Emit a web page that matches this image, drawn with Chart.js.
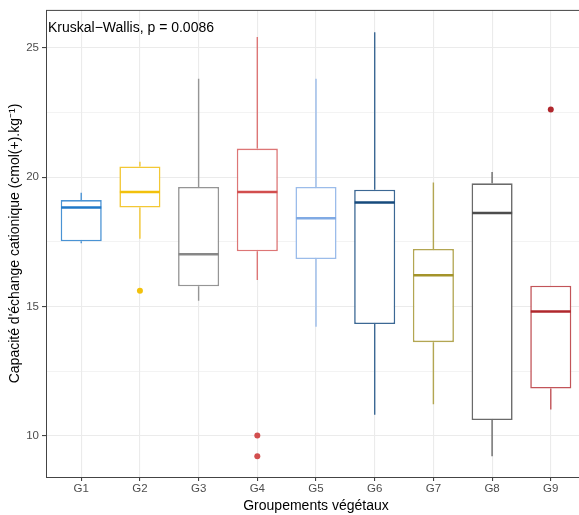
<!DOCTYPE html>
<html lang="fr">
<head>
    <meta charset="UTF-8">
    <title>Capacité d'échange cationique par groupement végétal</title>
    <script src="https://cdn.jsdelivr.net/npm/chart.js"></script>
    <style>
        html, body { margin: 0; padding: 0; overflow: hidden; background: #fff; }
    </style>
</head>
<body>
    <canvas id="chart" width="590" height="515"></canvas>

    <script>
        // Groups and boxplot statistics
        const groups = ['G1', 'G2', 'G3', 'G4', 'G5', 'G6', 'G7', 'G8', 'G9'];
        const q1 = [17.52, 18.82, 15.78, 17.13, 16.83, 14.32, 13.62, 10.61, 11.83];
        const median = [18.82, 19.42, 17.02, 19.42, 18.41, 19.02, 16.21, 18.61, 14.81];
        const q3 = [19.11, 20.41, 19.62, 21.10, 19.62, 19.51, 17.22, 19.76, 15.80];
        const whiskerLow = [17.44, 17.62, 15.22, 16.02, 14.22, 10.82, 11.22, 9.21, 11.02];
        const whiskerHigh = [19.39, 20.59, 23.80, 25.41, 23.80, 25.60, 19.79, 20.20, 15.80];

        // Outliers: group number and value
        const outlierGroup = [2, 4, 4, 9];
        const outlierValue = [15.61, 10.01, 9.21, 22.61];

        const colors = ['#1F78C8', '#F2C10C', '#878787', '#D24E4E', '#80AAE4', '#164A7C', '#A4942A', '#4D4D4D', '#B0272D'];
        const boxColors = ['#4A93D4', '#F3C835', '#959595', '#DD7676', '#9BBCEA', '#3C6894', '#B3A652', '#6A6A6A', '#C25459'];

        const yTicksMajor = [10, 15, 20, 25];
        const annotation = 'Kruskal\u2212Wallis, p = 0.0086';

        const fontFamily = '"Liberation Sans", Arial, sans-serif';

        // whiskers behind the boxes, medians on top
        const boxplotParts = {
            id: 'boxplotParts',
            beforeDatasetsDraw(chart) {
                const { ctx, scales: { x, y } } = chart;
                ctx.save();
                ctx.lineWidth = 1.4;
                groups.forEach((g, i) => {
                    const px = x.getPixelForValue(i + 1);
                    ctx.strokeStyle = boxColors[i];
                    ctx.beginPath();
                    ctx.moveTo(px, y.getPixelForValue(whiskerHigh[i]));
                    ctx.lineTo(px, y.getPixelForValue(q3[i]));
                    ctx.moveTo(px, y.getPixelForValue(q1[i]));
                    ctx.lineTo(px, y.getPixelForValue(whiskerLow[i]));
                    ctx.stroke();
                });
                ctx.restore();
            },
            afterDatasetsDraw(chart) {
                const { ctx, scales: { x, y } } = chart;
                const half = (x.getPixelForValue(2) - x.getPixelForValue(1)) * 0.35;
                ctx.save();
                ctx.lineWidth = 2.5;
                groups.forEach((g, i) => {
                    const px = x.getPixelForValue(i + 1);
                    const py = y.getPixelForValue(median[i]);
                    ctx.strokeStyle = colors[i];
                    ctx.beginPath();
                    ctx.moveTo(px - half + 0.5, py);
                    ctx.lineTo(px + half - 0.5, py);
                    ctx.stroke();
                });
                ctx.restore();
            },
            afterDraw(chart) {
                const { ctx, chartArea: a } = chart;
                ctx.save();
                ctx.strokeStyle = '#444';
                ctx.lineWidth = 1;
                ctx.strokeRect(a.left + 0.5, a.top + 0.5, a.right - a.left - 1, a.bottom - a.top);
                ctx.fillStyle = '#000';
                ctx.font = '14px ' + fontFamily;
                ctx.textBaseline = 'alphabetic';
                ctx.fillText(annotation, a.left + 2, a.top + 22);
                ctx.restore();
            }
        };

        const chart = new Chart(document.getElementById('chart').getContext('2d'), {
            type: 'bar',
            data: {
                datasets: [
                    {
                        label: 'Boîtes',
                        data: groups.map((g, i) => ({ x: i + 1, y: [q1[i], q3[i]] })),
                        backgroundColor: '#ffffff',
                        borderColor: boxColors,
                        borderWidth: 1.6,
                        borderSkipped: false,
                        barPercentage: 0.7,
                        categoryPercentage: 1
                    },
                    {
                        type: 'scatter',
                        label: 'Valeurs extrêmes',
                        data: outlierGroup.map((g, i) => ({ x: g, y: outlierValue[i] })),
                        pointBackgroundColor: outlierGroup.map(g => colors[g - 1]),
                        pointBorderWidth: 0,
                        pointRadius: 3
                    }
                ]
            },
            options: {
                responsive: false,
                animation: false,
                layout: { padding: { top: 6, right: 4, left: 0, bottom: 0 } },
                plugins: {
                    legend: { display: false },
                    tooltip: { enabled: false }
                },
                scales: {
                    x: {
                        type: 'linear',
                        min: 0.4,
                        max: 9.6,
                        offset: false,
                        grid: {
                            offset: false,
                            color: '#ebebeb',
                            lineWidth: 1.1,
                            tickColor: '#444',
                            tickLength: 4
                        },
                        border: { display: false },
                        ticks: {
                            stepSize: 1,
                            includeBounds: false,
                            autoSkip: false,
                            maxRotation: 0,
                            padding: 1,
                            color: '#4d4d4d',
                            font: { family: fontFamily, size: 11.5 },
                            callback: v => groups[v - 1] || ''
                        },
                        title: {
                            display: true,
                            text: 'Groupements végétaux',
                            color: '#000',
                            font: { family: fontFamily, size: 14 },
                            padding: { top: 3, bottom: 0 }
                        },
                        afterFit: s => { s.height = 38; }
                    },
                    y: {
                        min: 8.41,
                        max: 26.46,
                        grid: {
                            color: '#ebebeb',
                            lineWidth: c => (yTicksMajor.includes(c.tick.value) ? 1.1 : 0.6),
                            tickColor: c => (yTicksMajor.includes(c.tick.value) ? '#444' : 'rgba(0,0,0,0)'),
                            tickLength: 4
                        },
                        border: { display: false },
                        ticks: {
                            stepSize: 2.5,
                            includeBounds: false,
                            padding: 3,
                            color: '#4d4d4d',
                            font: { family: fontFamily, size: 11.5 },
                            callback: v => (yTicksMajor.includes(v) ? String(v) : '')
                        },
                        title: {
                            display: true,
                            text: "Capacité d'échange cationique (cmol(+).kg\u207B\u00B9)",
                            color: '#000',
                            font: { family: fontFamily, size: 14 },
                            padding: { top: 7, bottom: 0 }
                        },
                        afterFit: s => { s.width = 46; }
                    }
                }
            },
            plugins: [boxplotParts]
        });
    </script>
</body>
</html>
